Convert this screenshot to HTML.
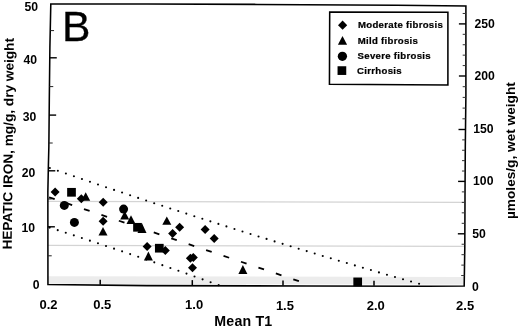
<!DOCTYPE html>
<html><head><meta charset="utf-8"><title>Hepatic iron vs Mean T1</title>
<style>html,body{margin:0;padding:0;background:#fff;}svg{display:block;filter:blur(0.3px);}</style>
</head><body>
<svg width="520" height="327" viewBox="0 0 520 327">
<rect width="520" height="327" fill="#fff"/>
<polygon points="47.9,276.2 464.3,277.0 464.2,284.6 47.9,283.7" fill="#ececec"/>
<line x1="47.9" y1="201.4" x2="465.0" y2="202.3" stroke="#d4d4d4" stroke-width="1.2"/>
<line x1="47.9" y1="245.4" x2="464.8" y2="246.3" stroke="#d4d4d4" stroke-width="1.2"/>
<circle cx="49.84" cy="168.00" r="1.05"/>
<circle cx="57.87" cy="170.77" r="1.05"/>
<circle cx="65.90" cy="173.54" r="1.05"/>
<circle cx="73.92" cy="176.29" r="1.05"/>
<circle cx="81.95" cy="179.03" r="1.05"/>
<circle cx="89.98" cy="181.76" r="1.05"/>
<circle cx="98.00" cy="184.48" r="1.05"/>
<circle cx="106.03" cy="187.19" r="1.05"/>
<circle cx="114.06" cy="189.88" r="1.05"/>
<circle cx="122.08" cy="192.57" r="1.05"/>
<circle cx="130.11" cy="195.24" r="1.05"/>
<circle cx="138.14" cy="197.90" r="1.05"/>
<circle cx="146.16" cy="200.55" r="1.05"/>
<circle cx="154.19" cy="203.19" r="1.05"/>
<circle cx="162.22" cy="205.81" r="1.05"/>
<circle cx="170.24" cy="208.43" r="1.05"/>
<circle cx="178.27" cy="211.03" r="1.05"/>
<circle cx="186.30" cy="213.62" r="1.05"/>
<circle cx="194.32" cy="216.20" r="1.05"/>
<circle cx="202.35" cy="218.77" r="1.05"/>
<circle cx="210.38" cy="221.33" r="1.05"/>
<circle cx="218.40" cy="223.88" r="1.05"/>
<circle cx="226.43" cy="226.41" r="1.05"/>
<circle cx="234.46" cy="228.93" r="1.05"/>
<circle cx="242.48" cy="231.45" r="1.05"/>
<circle cx="250.51" cy="233.95" r="1.05"/>
<circle cx="258.54" cy="236.43" r="1.05"/>
<circle cx="266.56" cy="238.91" r="1.05"/>
<circle cx="274.59" cy="241.38" r="1.05"/>
<circle cx="282.62" cy="243.83" r="1.05"/>
<circle cx="290.64" cy="246.27" r="1.05"/>
<circle cx="298.67" cy="248.70" r="1.05"/>
<circle cx="306.70" cy="251.12" r="1.05"/>
<circle cx="314.72" cy="253.53" r="1.05"/>
<circle cx="322.75" cy="255.93" r="1.05"/>
<circle cx="330.78" cy="258.31" r="1.05"/>
<circle cx="338.80" cy="260.69" r="1.05"/>
<circle cx="346.83" cy="263.05" r="1.05"/>
<circle cx="354.86" cy="265.40" r="1.05"/>
<circle cx="362.88" cy="267.74" r="1.05"/>
<circle cx="370.91" cy="270.07" r="1.05"/>
<circle cx="378.94" cy="272.38" r="1.05"/>
<circle cx="386.96" cy="274.69" r="1.05"/>
<circle cx="394.99" cy="276.98" r="1.05"/>
<circle cx="403.02" cy="279.26" r="1.05"/>
<circle cx="411.04" cy="281.53" r="1.05"/>
<circle cx="419.07" cy="283.79" r="1.05"/>
<circle cx="49.67" cy="227.60" r="1.05"/>
<circle cx="57.72" cy="230.17" r="1.05"/>
<circle cx="65.77" cy="232.76" r="1.05"/>
<circle cx="73.82" cy="235.36" r="1.05"/>
<circle cx="81.86" cy="237.99" r="1.05"/>
<circle cx="89.91" cy="240.63" r="1.05"/>
<circle cx="97.96" cy="243.28" r="1.05"/>
<circle cx="106.01" cy="245.96" r="1.05"/>
<circle cx="114.05" cy="248.65" r="1.05"/>
<circle cx="122.10" cy="251.36" r="1.05"/>
<circle cx="130.15" cy="254.08" r="1.05"/>
<circle cx="138.20" cy="256.82" r="1.05"/>
<circle cx="146.24" cy="259.58" r="1.05"/>
<circle cx="154.29" cy="262.35" r="1.05"/>
<circle cx="162.34" cy="265.15" r="1.05"/>
<circle cx="170.39" cy="267.95" r="1.05"/>
<circle cx="178.43" cy="270.78" r="1.05"/>
<circle cx="186.48" cy="273.62" r="1.05"/>
<circle cx="194.53" cy="276.48" r="1.05"/>
<circle cx="202.58" cy="279.36" r="1.05"/>
<circle cx="210.62" cy="282.25" r="1.05"/>
<circle cx="218.67" cy="285.16" r="1.05"/>
<line x1="49.10" y1="197.34" x2="54.70" y2="199.22" stroke="#000" stroke-width="1.8"/>
<line x1="66.54" y1="203.20" x2="72.14" y2="205.08" stroke="#000" stroke-width="1.8"/>
<line x1="83.99" y1="209.05" x2="89.59" y2="210.93" stroke="#000" stroke-width="1.8"/>
<line x1="101.43" y1="214.90" x2="107.03" y2="216.78" stroke="#000" stroke-width="1.8"/>
<line x1="118.87" y1="220.76" x2="124.47" y2="222.64" stroke="#000" stroke-width="1.8"/>
<line x1="136.31" y1="226.61" x2="141.91" y2="228.49" stroke="#000" stroke-width="1.8"/>
<line x1="153.76" y1="232.47" x2="159.36" y2="234.34" stroke="#000" stroke-width="1.8"/>
<line x1="171.20" y1="238.32" x2="176.80" y2="240.20" stroke="#000" stroke-width="1.8"/>
<line x1="188.64" y1="244.17" x2="194.24" y2="246.05" stroke="#000" stroke-width="1.8"/>
<line x1="206.09" y1="250.03" x2="211.69" y2="251.91" stroke="#000" stroke-width="1.8"/>
<line x1="223.53" y1="255.88" x2="229.13" y2="257.76" stroke="#000" stroke-width="1.8"/>
<line x1="240.97" y1="261.74" x2="246.57" y2="263.61" stroke="#000" stroke-width="1.8"/>
<line x1="258.41" y1="267.59" x2="264.01" y2="269.47" stroke="#000" stroke-width="1.8"/>
<line x1="275.86" y1="273.44" x2="281.46" y2="275.32" stroke="#000" stroke-width="1.8"/>
<line x1="293.30" y1="279.30" x2="298.90" y2="281.18" stroke="#000" stroke-width="1.8"/>
<rect x="67.15" y="187.95" width="8.70" height="8.70"/>
<rect x="133.15" y="222.95" width="8.70" height="8.70"/>
<rect x="154.95" y="243.85" width="8.70" height="8.70"/>
<rect x="353.35" y="277.55" width="8.70" height="8.70"/>
<polygon points="85.70,192.30 90.20,200.80 81.20,200.80"/>
<polygon points="124.70,211.00 129.20,219.50 120.20,219.50"/>
<polygon points="131.00,215.30 135.50,223.90 126.50,223.90"/>
<polygon points="142.00,223.20 146.50,232.90 137.50,232.90"/>
<polygon points="166.80,216.40 171.30,224.70 162.30,224.70"/>
<polygon points="148.40,251.60 152.90,260.50 143.90,260.50"/>
<polygon points="103.00,226.90 107.50,235.60 98.50,235.60"/>
<polygon points="242.90,265.00 247.40,274.10 238.40,274.10"/>
<polygon points="55.10,187.50 59.60,192.00 55.10,196.50 50.60,192.00"/>
<polygon points="81.30,194.20 85.80,198.70 81.30,203.20 76.80,198.70"/>
<polygon points="103.20,197.80 107.70,202.30 103.20,206.80 98.70,202.30"/>
<polygon points="103.10,216.70 107.60,221.20 103.10,225.70 98.60,221.20"/>
<polygon points="172.60,228.90 177.10,233.40 172.60,237.90 168.10,233.40"/>
<polygon points="179.60,222.80 184.10,227.30 179.60,231.80 175.10,227.30"/>
<polygon points="205.10,224.90 209.60,229.40 205.10,233.90 200.60,229.40"/>
<polygon points="214.20,234.10 218.70,238.60 214.20,243.10 209.70,238.60"/>
<polygon points="147.10,242.10 151.60,246.60 147.10,251.10 142.60,246.60"/>
<polygon points="165.30,245.90 169.80,250.40 165.30,254.90 160.80,250.40"/>
<polygon points="190.40,253.70 194.90,258.20 190.40,262.70 185.90,258.20"/>
<polygon points="193.30,252.90 197.80,257.40 193.30,261.90 188.80,257.40"/>
<polygon points="192.50,263.20 197.00,267.70 192.50,272.20 188.00,267.70"/>
<circle cx="64.30" cy="205.40" r="4.5"/>
<circle cx="74.40" cy="222.40" r="4.5"/>
<circle cx="123.60" cy="209.10" r="4.5"/>
<polygon points="50.8,4.0 147,4.05 257,4.4 397,5.35 465.9,6.1 465.9,95 465.3,147 465.0,197 464.8,247 464.2,286.1 427,286.3 307,286.0 147,285.6 47.95,284.6 47.9,247 47.85,192 48.4,165 48.85,147 49.3,100 49.9,47" fill="none" stroke="#000" stroke-width="1.55" stroke-linejoin="miter"/>
<line x1="47.88" y1="226.8" x2="54.88" y2="226.8" stroke="#000" stroke-width="1.4"/>
<line x1="48.28" y1="170.8" x2="55.28" y2="170.8" stroke="#000" stroke-width="1.4"/>
<line x1="49.16" y1="115.1" x2="56.16" y2="115.1" stroke="#000" stroke-width="1.4"/>
<line x1="49.78" y1="57.8" x2="56.78" y2="57.8" stroke="#000" stroke-width="1.4"/>
<line x1="47.91" y1="255.8" x2="51.71" y2="255.8" stroke="#222" stroke-width="1.0"/>
<line x1="47.86" y1="199.0" x2="51.66" y2="199.0" stroke="#222" stroke-width="1.0"/>
<line x1="48.89" y1="143.0" x2="52.69" y2="143.0" stroke="#222" stroke-width="1.0"/>
<line x1="49.45" y1="86.6" x2="53.25" y2="86.6" stroke="#222" stroke-width="1.0"/>
<line x1="50.24" y1="30.6" x2="54.04" y2="30.6" stroke="#222" stroke-width="1.0"/>
<line x1="464.36" y1="275.56" x2="461.16" y2="275.56" stroke="#333" stroke-width="1.0"/>
<line x1="464.52" y1="265.12" x2="461.32" y2="265.12" stroke="#333" stroke-width="1.0"/>
<line x1="464.68" y1="254.68" x2="461.48" y2="254.68" stroke="#333" stroke-width="1.0"/>
<line x1="464.81" y1="244.24" x2="461.61" y2="244.24" stroke="#333" stroke-width="1.0"/>
<line x1="464.85" y1="233.80" x2="457.85" y2="233.80" stroke="#000" stroke-width="1.4"/>
<line x1="464.89" y1="223.32" x2="461.69" y2="223.32" stroke="#333" stroke-width="1.0"/>
<line x1="464.94" y1="212.84" x2="461.74" y2="212.84" stroke="#333" stroke-width="1.0"/>
<line x1="464.98" y1="202.36" x2="461.78" y2="202.36" stroke="#333" stroke-width="1.0"/>
<line x1="465.03" y1="191.88" x2="461.83" y2="191.88" stroke="#333" stroke-width="1.0"/>
<line x1="465.09" y1="181.40" x2="458.09" y2="181.40" stroke="#000" stroke-width="1.4"/>
<line x1="465.16" y1="171.02" x2="461.96" y2="171.02" stroke="#333" stroke-width="1.0"/>
<line x1="465.22" y1="160.64" x2="462.02" y2="160.64" stroke="#333" stroke-width="1.0"/>
<line x1="465.28" y1="150.26" x2="462.08" y2="150.26" stroke="#333" stroke-width="1.0"/>
<line x1="465.38" y1="139.88" x2="462.18" y2="139.88" stroke="#333" stroke-width="1.0"/>
<line x1="465.50" y1="129.50" x2="458.50" y2="129.50" stroke="#000" stroke-width="1.4"/>
<line x1="465.63" y1="118.80" x2="462.43" y2="118.80" stroke="#333" stroke-width="1.0"/>
<line x1="465.75" y1="108.10" x2="462.55" y2="108.10" stroke="#333" stroke-width="1.0"/>
<line x1="465.87" y1="97.40" x2="462.67" y2="97.40" stroke="#333" stroke-width="1.0"/>
<line x1="465.90" y1="86.70" x2="462.70" y2="86.70" stroke="#333" stroke-width="1.0"/>
<line x1="465.90" y1="76.00" x2="458.90" y2="76.00" stroke="#000" stroke-width="1.4"/>
<line x1="465.90" y1="65.58" x2="462.70" y2="65.58" stroke="#333" stroke-width="1.0"/>
<line x1="465.90" y1="55.16" x2="462.70" y2="55.16" stroke="#333" stroke-width="1.0"/>
<line x1="465.90" y1="44.74" x2="462.70" y2="44.74" stroke="#333" stroke-width="1.0"/>
<line x1="465.90" y1="34.32" x2="462.70" y2="34.32" stroke="#333" stroke-width="1.0"/>
<line x1="465.90" y1="23.90" x2="458.90" y2="23.90" stroke="#000" stroke-width="1.4"/>
<line x1="465.90" y1="13.48" x2="462.70" y2="13.48" stroke="#333" stroke-width="1.0"/>
<line x1="100.2" y1="284.79" x2="100.2" y2="279.79" stroke="#000" stroke-width="1.5"/>
<line x1="192.3" y1="285.12" x2="192.3" y2="280.12" stroke="#000" stroke-width="1.5"/>
<line x1="283.0" y1="285.45" x2="283.0" y2="280.45" stroke="#000" stroke-width="1.5"/>
<line x1="374.0" y1="285.77" x2="374.0" y2="280.77" stroke="#000" stroke-width="1.5"/>
<text x="24.4" y="10.6" font-size="12.2" font-weight="bold" font-family="Liberation Sans, sans-serif">50</text>
<text x="23.5" y="63.9" font-size="12.2" font-weight="bold" font-family="Liberation Sans, sans-serif">40</text>
<text x="22.8" y="121.3" font-size="12.2" font-weight="bold" font-family="Liberation Sans, sans-serif">30</text>
<text x="21.8" y="176.7" font-size="12.2" font-weight="bold" font-family="Liberation Sans, sans-serif">20</text>
<text x="21.6" y="232.2" font-size="12.2" font-weight="bold" font-family="Liberation Sans, sans-serif">10</text>
<text x="32.7" y="288.5" font-size="12.2" font-weight="bold" font-family="Liberation Sans, sans-serif">0</text>
<text x="474.5" y="28.1" font-size="12.2" font-weight="bold" font-family="Liberation Sans, sans-serif">250</text>
<text x="474.5" y="80.3" font-size="12.2" font-weight="bold" font-family="Liberation Sans, sans-serif">200</text>
<text x="473.3" y="132.9" font-size="12.2" font-weight="bold" font-family="Liberation Sans, sans-serif">150</text>
<text x="473.1" y="185.2" font-size="12.2" font-weight="bold" font-family="Liberation Sans, sans-serif">100</text>
<text x="472.2" y="237.6" font-size="12.2" font-weight="bold" font-family="Liberation Sans, sans-serif">50</text>
<text x="471.9" y="290.9" font-size="12.2" font-weight="bold" font-family="Liberation Sans, sans-serif">0</text>
<text x="39.45" y="308.5" font-size="13.0" font-weight="bold" font-family="Liberation Sans, sans-serif">0.2</text>
<text x="93.25" y="308.7" font-size="13.0" font-weight="bold" font-family="Liberation Sans, sans-serif">0.5</text>
<text x="185.1" y="309.4" font-size="13.0" font-weight="bold" font-family="Liberation Sans, sans-serif">1.0</text>
<text x="275.88" y="309.6" font-size="13.0" font-weight="bold" font-family="Liberation Sans, sans-serif">1.5</text>
<text x="366.7" y="309.7" font-size="13.0" font-weight="bold" font-family="Liberation Sans, sans-serif">2.0</text>
<text x="456.05" y="309.7" font-size="13.0" font-weight="bold" font-family="Liberation Sans, sans-serif">2.5</text>
<text x="214.3" y="325.5" font-size="14.2" font-weight="bold" letter-spacing="0.2" font-family="Liberation Sans, sans-serif">Mean T1</text>
<text transform="translate(11.7,249.6) rotate(-89.4)" font-size="13.2" font-weight="bold" font-family="Liberation Sans, sans-serif" textLength="211.6" lengthAdjust="spacingAndGlyphs">HEPATIC IRON, mg/g, dry weight</text>
<text transform="translate(514.8,219.0) rotate(-90)" font-size="13.0" font-weight="bold" font-family="Liberation Sans, sans-serif" textLength="136.8" lengthAdjust="spacingAndGlyphs">µmoles/g, wet weight</text>
<text x="61.9" y="41.1" font-size="42.6" stroke="#000" stroke-width="0.3" font-family="Liberation Sans, sans-serif">B</text>
<polygon points="329.7,11.95 447.9,12.3 447.9,85.05 329.45,84.3" fill="#fff" stroke="#000" stroke-width="1.55"/>
<polygon points="342.60,20.60 347.20,25.20 342.60,29.80 338.00,25.20"/>
<polygon points="342.50,36.00 347.10,44.80 337.90,44.80"/>
<circle cx="342.40" cy="56.30" r="4.65"/>
<rect x="337.55" y="66.25" width="8.70" height="8.70"/>
<text transform="translate(358.0 28.2) scale(1.001 1)" font-size="9.6" font-weight="bold" letter-spacing="0.3" stroke="#000" stroke-width="0.22" font-family="Liberation Sans, sans-serif">Moderate fibrosis</text>
<text transform="translate(357.7 43.8) scale(1.001 1)" font-size="9.6" font-weight="bold" letter-spacing="0.3" stroke="#000" stroke-width="0.22" font-family="Liberation Sans, sans-serif">Mild fibrosis</text>
<text transform="translate(357.6 58.8) scale(1.001 1)" font-size="9.6" font-weight="bold" letter-spacing="0.3" stroke="#000" stroke-width="0.22" font-family="Liberation Sans, sans-serif">Severe fibrosis</text>
<text transform="translate(357.1 74.0) scale(1.001 1)" font-size="9.6" font-weight="bold" letter-spacing="0.3" stroke="#000" stroke-width="0.22" font-family="Liberation Sans, sans-serif">Cirrhosis</text>
</svg>
</body></html>
